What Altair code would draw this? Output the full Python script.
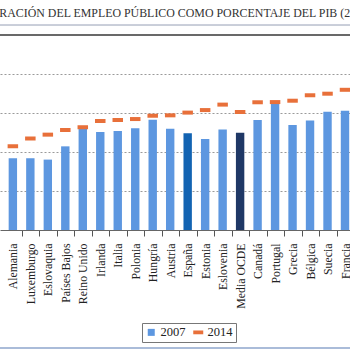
import altair as alt
import pandas as pd

paises = ["Alemania", "Luxemburgo", "Eslovaquia", "Países Bajos", "Reino Unido",
          "Irlanda", "Italia", "Polonia", "Hungría", "Austria", "España", "Estonia",
          "Eslovenia", "Media OCDE", "Canadá", "Portugal", "Grecia", "Bélgica",
          "Suecia", "Francia"]
v2007 = [7.68, 7.68, 7.61, 8.29, 9.18, 9.03, 9.08, 9.22, 9.66, 9.19, 8.96, 8.67,
         9.16, 8.99, 9.64, 10.48, 9.38, 9.61, 10.07, 10.12]
v2014 = [8.30, 8.69, 8.89, 9.13, 9.27, 9.59, 9.64, 9.69, 9.86, 9.88, 10.02, 10.15,
         10.43, 10.05, 10.55, 10.56, 10.63, 10.91, 10.99, 11.19]
series = ["2007", "2014"]
titulo = "RACIÓN DEL EMPLEO PÚBLICO COMO PORCENTAJE DEL PIB (2007 Y 2014)"

BLUE = "#5d97e0"
SPAIN = "#1263b2"
OECD = "#1f3866"
ORANGE = "#e8703a"
FONT = "Liberation Serif"

df = pd.DataFrame({"idx": list(range(len(paises))), "pais": paises,
                   "v2007": v2007, "v2014": v2014})
leg = pd.DataFrame({"serie": series})

xscale = alt.Scale(domain=[-0.45, 19.0], nice=False, zero=False)
yscale = alt.Scale(domain=[4, 14], nice=False, zero=False)

label_expr = "[" + ",".join("'" + p + "'" for p in paises) + "][datum.value]"
xaxis = alt.Axis(values=list(range(len(paises))), labelExpr=label_expr,
                 labelAngle=270, labelAlign="right", labelBaseline="middle",
                 labelPadding=7, labelFont=FONT, labelFontSize=11.8,
                 labelColor="#222", labelFlush=False, labelOverlap=False,
                 labelBound=False, tickOffset=9, labelOffset=-9, ticks=True,
                 tickSize=6, tickColor="#555", domain=True, domainColor="#666",
                 domainWidth=1.2, grid=False, title=None)
yaxis = alt.Axis(values=[6, 8, 10, 12], grid=True, gridDash=[2, 2],
                 gridColor="#9a9a9a", gridWidth=1, labels=False, ticks=False,
                 domain=False, title=None)

leg_props = dict(orient="none", legendX=142, legendY=288,
                 direction="horizontal", title=None,
                 strokeColor="#777", fillColor="white",
                 padding=3, labelFont=FONT,
                 labelFontSize=12.5, labelColor="#222",
                 symbolSize=100, labelOffset=3,
                 columnPadding=6, symbolStrokeWidth=0)

base = alt.Chart(df)

bars = base.mark_bar(size=8.4, clip=True).encode(
    x=alt.X("idx:Q", scale=xscale, axis=xaxis),
    y=alt.Y("v2007:Q", scale=yscale, axis=yaxis),
    y2=alt.datum(4),
    color=alt.when(alt.datum.pais == "España").then(alt.value(SPAIN))
             .when(alt.datum.pais == "Media OCDE").then(alt.value(OECD))
             .otherwise(alt.value(BLUE)),
)

ticks = base.mark_tick(orient="horizontal", size=10.5, thickness=4,
                       color=ORANGE, opacity=1, clip=True).encode(
    x=alt.X("idx:Q", scale=xscale, axis=xaxis),
    y=alt.Y("v2014:Q", scale=yscale, axis=yaxis),
)

top_dark = alt.Chart(df).mark_rule(color="#6a6a6a", strokeWidth=1.5).encode(
    y=alt.datum(14, scale=yscale, axis=yaxis))
top_light = alt.Chart(df).mark_rule(color="#c9ced8", strokeWidth=1).encode(
    y=alt.datum(14.5, scale=yscale, axis=yaxis))
bottom_line = alt.Chart(df).mark_rule(color="#aabdd8", strokeWidth=1.5).encode(
    y=alt.datum(-2.05, scale=yscale, axis=yaxis))

legend_pts = alt.Chart(leg).mark_point(filled=True, clip=True, opacity=1).encode(
    x=alt.datum(-5, scale=xscale, axis=xaxis),
    y=alt.datum(10, scale=yscale, axis=yaxis),
    color=alt.Color("serie:N", scale=alt.Scale(domain=series, range=[BLUE, ORANGE]),
                    legend=alt.Legend(**leg_props)),
    shape=alt.Shape("serie:N", scale=alt.Scale(
        domain=series,
        range=["M-0.7,-0.7L0.7,-0.7L0.7,0.7L-0.7,0.7Z",
               "M-1,-0.38L1,-0.38L1,0.38L-1,0.38Z"]),
        legend=alt.Legend(**leg_props)),
)

chart = alt.layer(top_light, top_dark, bottom_line, bars, ticks, legend_pts).properties(
    width=350, height=195,
    padding={"left": 0, "top": 35, "right": 0, "bottom": 120},
    autosize=alt.AutoSizeParams(type="none"),
    title=alt.TitleParams(titulo, anchor="start", offset=5, font=FONT,
                          fontSize=11.9, fontWeight="normal", color="#333"),
    background="white",
).configure_view(stroke=None)

chart.save("out.html", embed_options={"renderer": "svg", "actions": False})
